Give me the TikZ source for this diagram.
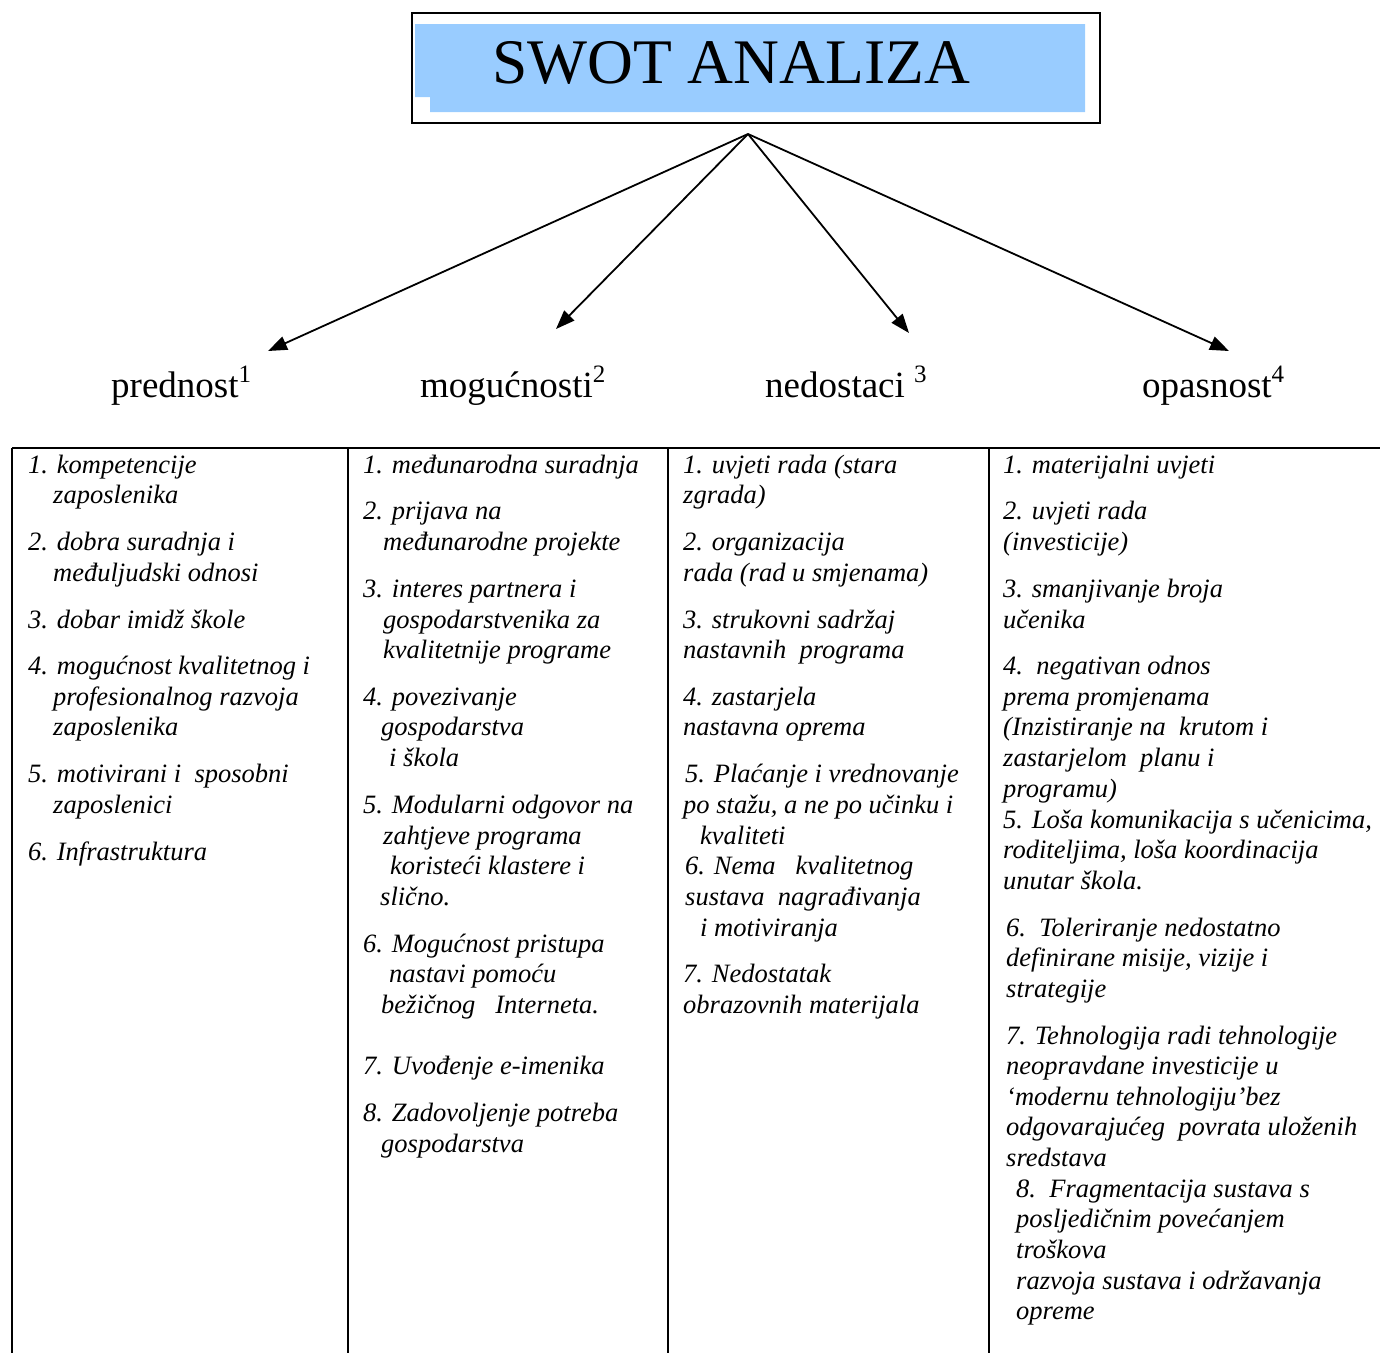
\documentclass[tikz,border=0pt]{standalone}
\usepackage{fontspec}
\setmainfont{Liberation Serif}
\usetikzlibrary{arrows.meta}
\definecolor{titleblue}{RGB}{153,204,255}
\begin{document}
\begin{tikzpicture}[x=1pt,y=-1pt,
  item/.style={anchor=base west, inner sep=0pt, font=\fontsize{26.5}{30}\selectfont\itshape},
  head/.style={anchor=base west, inner sep=0pt, font=\fontsize{37}{40}\selectfont},
  conn/.style={line width=1.8pt, -{Triangle[length=19pt,width=14pt]}, shorten >=0pt},
  rule/.style={line width=1.8pt}]
\useasboundingbox (0,0) rectangle (1380,1353);
% title box
\fill[titleblue] (415,24) -- (1085,24) -- (1085,112) -- (430,112) -- (430,97) -- (415,97) -- cycle;
\draw[line width=1.6pt] (412,13) rectangle (1100,123);
\node[anchor=base, inner sep=0pt, font=\fontsize{63.5}{66}\selectfont] (title) at (731,83) {SWOT ANALIZA};
% connectors
\coordinate (apex) at (748,134);
\coordinate (tS) at (268,351);
\coordinate (tO) at (556,329);
\coordinate (tW) at (909,333);
\coordinate (tT) at (1229,351);
\draw[conn] (apex) -- (tS);
\draw[conn] (apex) -- (tO);
\draw[conn] (apex) -- (tW);
\draw[conn] (apex) -- (tT);
% headers
\node[head] (hS) at (111,397) {prednost\raisebox{15pt}{\fontsize{25}{25}\selectfont 1}};
\node[head] (hO) at (420,397) {mogućnosti\raisebox{15pt}{\fontsize{25}{25}\selectfont 2}};
\node[head] (hW) at (765,397) {nedostaci \raisebox{15pt}{\fontsize{25}{25}\selectfont 3}};
\node[head] (hT) at (1142,397) {opasnost\raisebox{15pt}{\fontsize{25}{25}\selectfont 4}};
% table rules
\draw[rule] (12,448) -- (1380,448);
\draw[rule] (12,448) -- (12,1353);
\draw[rule] (348,448) -- (348,1353);
\draw[rule] (668,448) -- (668,1353);
\draw[rule] (989,448) -- (989,1353);
% column 1
\foreach \x/\y/\t [count=\i] in {
 28/473/{1. kompetencije},
 53/503/{zaposlenika},
 28/550/{2. dobra suradnja i},
 53/581/{međuljudski odnosi},
 28/628/{3. dobar imidž škole},
 28/674/{4. mogućnost kvalitetnog i},
 53/705/{profesionalnog razvoja},
 53/735/{zaposlenika},
 28/782/{5. motivirani i\ \ sposobni},
 53/813/{zaposlenici},
 28/860/{6. Infrastruktura}}
 \node[item] (a\i) at (\x,\y) {\t};
% column 2
\foreach \x/\y/\t [count=\i] in {
 363/473/{1. međunarodna suradnja},
 363/519/{2. prijava na},
 383/550/{međunarodne projekte},
 363/597/{3. interes partnera i},
 383/628/{gospodarstvenika za},
 383/658/{kvalitetnije programe},
 363/705/{4. povezivanje},
 381/735/{gospodarstva},
 389/766/{i škola},
 363/813/{5. Modularni odgovor na},
 383/844/{zahtjeve programa},
 390/874/{koristeći klastere i},
 380/905/{slično.},
 363/952/{6. Mogućnost pristupa},
 389/982/{nastavi pomoću},
 381/1013/{bežičnog\ \ \ Interneta.},
 363/1074/{7. Uvođenje e-imenika},
 363/1121/{8. Zadovoljenje potreba},
 381/1152/{gospodarstva}}
 \node[item] (b\i) at (\x,\y) {\t};
% column 3
\foreach \x/\y/\t [count=\i] in {
 683/473/{1. uvjeti rada (stara},
 683/503/{zgrada)},
 683/550/{2. organizacija},
 683/581/{rada (rad u smjenama)},
 683/628/{3. strukovni sadržaj},
 683/658/{nastavnih\ \ programa},
 683/705/{4. zastarjela},
 683/735/{nastavna oprema},
 685/782/{5. Plaćanje i vrednovanje},
 683/813/{po stažu, a ne po učinku i},
 700/844/{kvaliteti},
 685/874/{6. Nema\ \ \ kvalitetnog},
 685/905/{sustava\ \ nagrađivanja},
 700/936/{i motiviranja},
 683/982/{7. Nedostatak},
 683/1013/{obrazovnih materijala}}
 \node[item] (c\i) at (\x,\y) {\t};
% column 4
\foreach \x/\y/\t [count=\i] in {
 1003/473/{1. materijalni uvjeti},
 1003/519/{2. uvjeti rada},
 1003/550/{(investicije)},
 1003/597/{3. smanjivanje broja},
 1003/628/{učenika},
 1003/674/{4.\ \ negativan odnos},
 1003/705/{prema promjenama},
 1003/735/{(Inzistiranje na\ \ krutom i},
 1003/766/{zastarjelom\ \ planu i},
 1003/797/{programu)},
 1003/828/{5. Loša komunikacija s učenicima,},
 1003/858/{roditeljima, loša koordinacija},
 1003/889/{unutar škola.},
 1006/936/{6.\ \ Toleriranje nedostatno},
 1006/966/{definirane misije, vizije i},
 1006/997/{strategije},
 1006/1044/{7. Tehnologija radi tehnologije},
 1006/1074/{neopravdane investicije u},
 1006/1105/{‘modernu tehnologiju’bez},
 1006/1135/{odgovarajućeg\ \ povrata uloženih},
 1006/1166/{sredstava},
 1016/1197/{8.\ \ Fragmentacija sustava s},
 1016/1227/{posljedičnim povećanjem},
 1016/1258/{troškova},
 1016/1289/{razvoja sustava i održavanja},
 1016/1319/{opreme}}
 \node[item] (d\i) at (\x,\y) {\t};
\end{tikzpicture}
\end{document}
